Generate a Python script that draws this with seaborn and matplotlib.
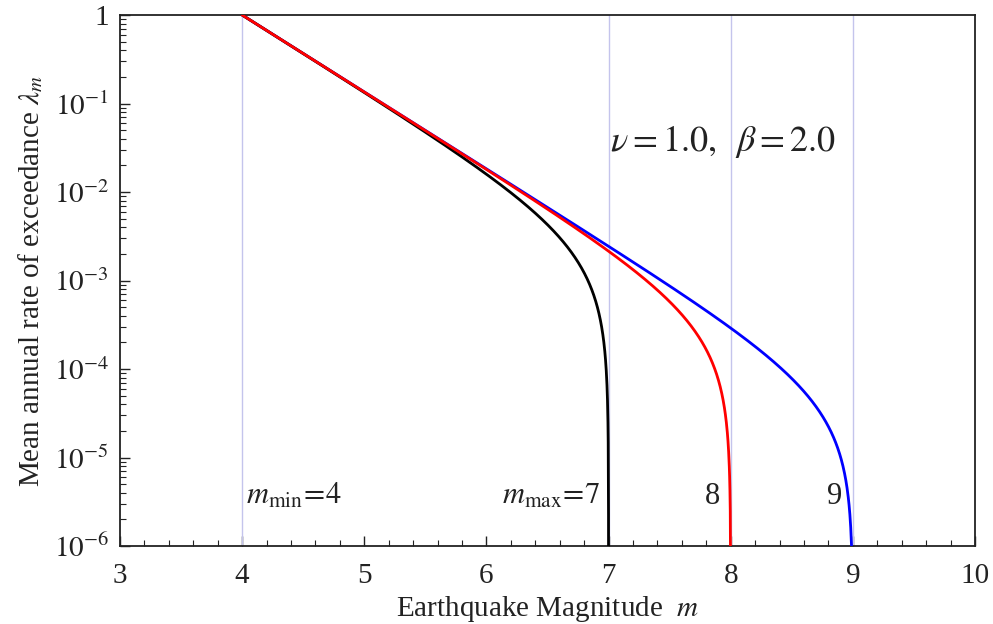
import numpy as np
import pandas as pd
import matplotlib
matplotlib.use("Agg")
import matplotlib.pyplot as plt
import matplotlib.ticker as mticker
import seaborn as sns

# Truncated Gutenberg-Richter recurrence parameters
nu = 1.0
beta = 2.0
m_min = 4.0
m_max_values = [9.0, 7.0, 8.0]          # drawing order: blue, black, red on top
curve_colors = {9.0: "#0000ff", 7.0: "#000000", 8.0: "#ff0000"}
guide_lines = [4.0, 7.0, 8.0, 9.0]
x_ticks = [3, 4, 5, 6, 7, 8, 9, 10]
y_ticks = [1e-6, 1e-5, 1e-4, 1e-3, 1e-2, 1e-1, 1.0]
y_tick_labels = [r"$10^{-6}$", r"$10^{-5}$", r"$10^{-4}$", r"$10^{-3}$",
                 r"$10^{-2}$", r"$10^{-1}$", "1"]


def exceedance_rate(m, m_max):
    span = np.exp(-beta * (m_max - m_min))
    return nu * (np.exp(-beta * (m - m_min)) - span) / (1.0 - span)


frames = []
for mx in m_max_values:
    grid = np.concatenate([np.linspace(m_min, mx - 1e-3, 1500),
                           mx - np.geomspace(1e-3, 1e-9, 400)])
    frames.append(pd.DataFrame({"m": grid,
                                "rate": exceedance_rate(grid, mx),
                                "mmax": mx}))
data = pd.concat(frames, ignore_index=True)

sns.set_style("ticks")
plt.rcParams["font.family"] = ["Liberation Serif", "DejaVu Serif"]
plt.rcParams["mathtext.fontset"] = "stix"

fig = plt.figure(figsize=(9.93, 6.24), dpi=100)
ax = fig.add_axes([120 / 993, 1 - 546 / 624, (975 - 120) / 993, (546 - 15) / 624])

for xv in guide_lines:
    ax.axvline(xv, color="#c4c4ec", lw=1.0, zorder=1)

for mx in m_max_values:
    sub = data[data["mmax"] == mx]
    sns.lineplot(data=sub, x="m", y="rate", color=curve_colors[mx],
                 lw=2.0, ax=ax, estimator=None, sort=False, zorder=3)

ax.set_yscale("log")
ax.set_xlim(3, 10)
ax.set_ylim(1e-6, 1.0)
ax.set_xticks(x_ticks)
ax.set_xticklabels([str(t) for t in x_ticks])
ax.xaxis.set_minor_locator(mticker.MultipleLocator(0.2))
ax.set_yticks(y_ticks)
ax.set_yticklabels(y_tick_labels)
ax.yaxis.set_minor_locator(mticker.LogLocator(base=10, subs=np.arange(2, 10) * 1.0, numticks=20))
ax.yaxis.set_minor_formatter(mticker.NullFormatter())

ax.tick_params(which="both", direction="in", top=False, right=False,
               labelsize=21, colors="#222222")
ax.tick_params(axis="x", which="major", pad=12)
ax.tick_params(axis="y", which="major", pad=8)
ax.tick_params(which="major", length=7, width=1.0)
ax.tick_params(which="minor", length=4, width=0.8)
for side in ax.spines.values():
    side.set_color("#222222")
    side.set_linewidth(1.3)

ax.set_xlabel(r"Earthquake Magnitude  $m$", fontsize=21, color="#222222", labelpad=4)
ax.set_ylabel(r"Mean annual rate of exceedance $\lambda_m$", fontsize=21,
              color="#222222", labelpad=6)

txt = dict(fontsize=22, color="#222222")
base_y = 3.0e-6
ax.text(4.03, base_y, r"$m_{\mathrm{min}}\!=\!4$", ha="left", va="baseline", **txt)
ax.text(6.93, base_y, r"$m_{\mathrm{max}}\!=\!7$", ha="right", va="baseline", **txt)
ax.text(7.91, base_y, "8", ha="right", va="baseline", **txt)
ax.text(8.91, base_y, "9", ha="right", va="baseline", **txt)
ax.text(7.94, 2.9e-2, r"$\nu = 1.0,\;\;\beta = 2.0$", ha="center",
        va="baseline", fontsize=26, color="#222222")

ax.set_facecolor("white")
fig.savefig("out.png", dpi=100, facecolor="white")
